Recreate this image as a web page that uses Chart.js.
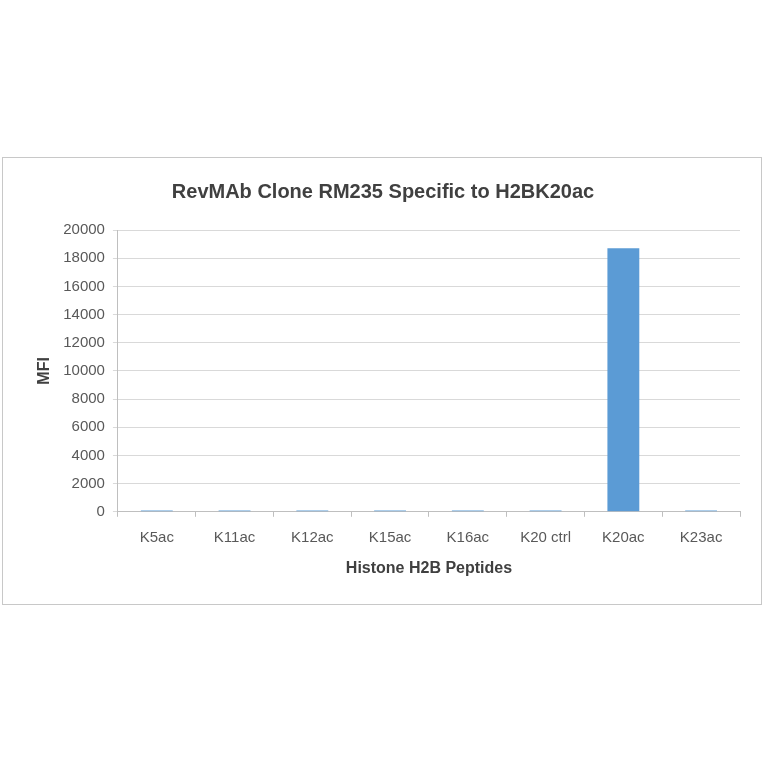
<!DOCTYPE html>
<html><head><meta charset="utf-8">
<script src="https://cdn.jsdelivr.net/npm/chart.js@4.4.1/dist/chart.umd.min.js"></script>
<style>
html,body{margin:0;padding:0;background:#fff;width:764px;height:764px;overflow:hidden}
#box{position:absolute;left:2px;top:157px;width:758px;height:446px;border:1px solid #c8c8c8}
canvas{display:block}
</style></head><body>
<div id="box"><canvas id="c" width="758" height="446"></canvas></div>
<script>
const categories = ["K5ac","K11ac","K12ac","K15ac","K16ac","K20 ctrl","K20ac","K23ac"];
const mfiValues = [90, 90, 90, 90, 90, 90, 18700, 90];
const yTicks = [0,2000,4000,6000,8000,10000,12000,14000,16000,18000,20000];
const FONT = "'Liberation Sans', Arial, sans-serif";
new Chart(document.getElementById('c'), {
  type: 'bar',
  data: { labels: categories, datasets: [{ data: mfiValues, backgroundColor: '#5b9bd5', borderWidth: 0,
    barPercentage: 0.41, categoryPercentage: 1 }] },
  options: {
    responsive: false, animation: false,
    layout: { padding: { left: 23, right: 21, top: 10, bottom: 22 } },
    plugins: {
      legend: { display: false }, tooltip: { enabled: false },
      title: { display: true, text: 'RevMAb Clone RM235 Specific to H2BK20ac', color: '#404040',
        font: { family: FONT, size: 20, weight: 'bold' }, padding: { top: 12, bottom: 26 } }
    },
    scales: {
      x: {
        grid: { display: true, drawOnChartArea: false, offset: true, color: '#bfbfbf', tickLength: 5 },
        border: { color: '#bfbfbf' },
        ticks: { color: '#595959', font: { family: FONT, size: 15 }, padding: 12, maxRotation: 0 },
        title: { display: true, text: 'Histone H2B Peptides', color: '#404040', font: { family: FONT, size: 16, weight: 'bold' }, padding: { top: 0 } }
      },
      y: {
        min: 0, max: 20000,
        afterBuildTicks: (s) => { s.ticks = yTicks.map(v => ({ value: v })); },
        grid: { color: '#d9d9d9', tickLength: 5 },
        border: { color: '#bfbfbf', dash: [] },
        ticks: { color: '#595959', font: { family: FONT, size: 15 }, padding: 8, callback: (v) => String(v) },
        title: { display: true, text: 'MFI', color: '#404040', font: { family: FONT, size: 16, weight: 'bold' }, padding: { top: 9, bottom: 1 } }
      }
    }
  }
});
</script></body></html>
